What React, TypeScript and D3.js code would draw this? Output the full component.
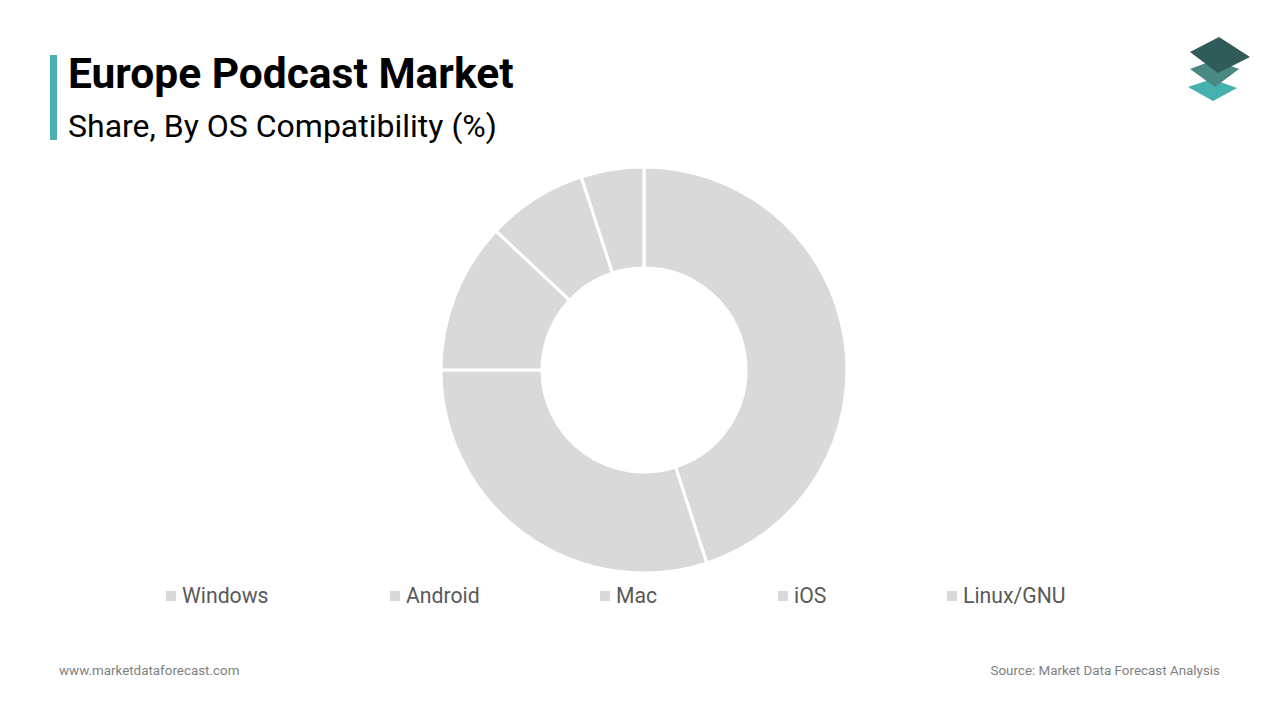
import * as d3 from "d3";

const categories = ["Windows", "Android", "Mac", "iOS", "Linux/GNU"];
const shares = [45, 30, 12, 8, 5];
const legendX = [166, 390, 600, 778, 947];

const width = 1280;
const height = 720;

export default function App() {
  const cx = 644;
  const cy = 370;
  const outerR = 203;
  const innerR = 102;

  const data = categories.map((name, i) => ({ name, value: shares[i] }));
  const pie = d3
    .pie<{ name: string; value: number }>()
    .sort(null)
    .value((d) => d.value);
  const arc = d3
    .arc<d3.PieArcDatum<{ name: string; value: number }>>()
    .innerRadius(innerR)
    .outerRadius(outerR);
  const arcs = pie(data);

  const font = "Roboto, 'Noto Sans', sans-serif";

  return (
    <svg
      width={width}
      height={height}
      viewBox={`0 0 ${width} ${height}`}
      style={{ position: "absolute", left: 0, top: 0, background: "#fff", fontFamily: font }}
    >
      <rect x={0} y={0} width={width} height={height} fill="#fff" />
      <rect x={50} y={55} width={7} height={85} fill="#4bb0ad" />
      <text x={68} y={88} fontSize={42.5} fontWeight={700} fill="#000">
        Europe Podcast Market
      </text>
      <text x={68} y={137} fontSize={32} fill="#000">
        Share, By OS Compatibility (%)
      </text>

      {/* logo */}
      <g>
        <polygon points="1188,87 1212,79 1237,88 1213,101" fill="#45b0ad" />
        <polygon points="1190,69 1214,60 1239,69 1215,87" fill="#4a8884" />
        <polygon points="1190,52 1219,37 1250,57 1218,73" fill="#2f5c58" />
      </g>

      <g transform={`translate(${cx},${cy})`}>
        {arcs.map((a, i) => (
          <path key={i} d={arc(a) || ""} fill="#d9d9d9" stroke="#fff" strokeWidth={3} />
        ))}
      </g>

      <g>
        {categories.map((c, i) => (
          <g key={c}>
            <rect x={legendX[i]} y={591} width={10} height={10} fill="#d9d9d9" />
            <text x={legendX[i] + 16} y={603} fontSize={21.2} fill="#595959">
              {c}
            </text>
          </g>
        ))}
      </g>

      <text x={59} y={675} fontSize={13.4} fill="#808080">
        www.marketdataforecast.com
      </text>
      <text x={1220} y={675} fontSize={13.4} fill="#808080" textAnchor="end">
        Source: Market Data Forecast Analysis
      </text>
    </svg>
  );
}
